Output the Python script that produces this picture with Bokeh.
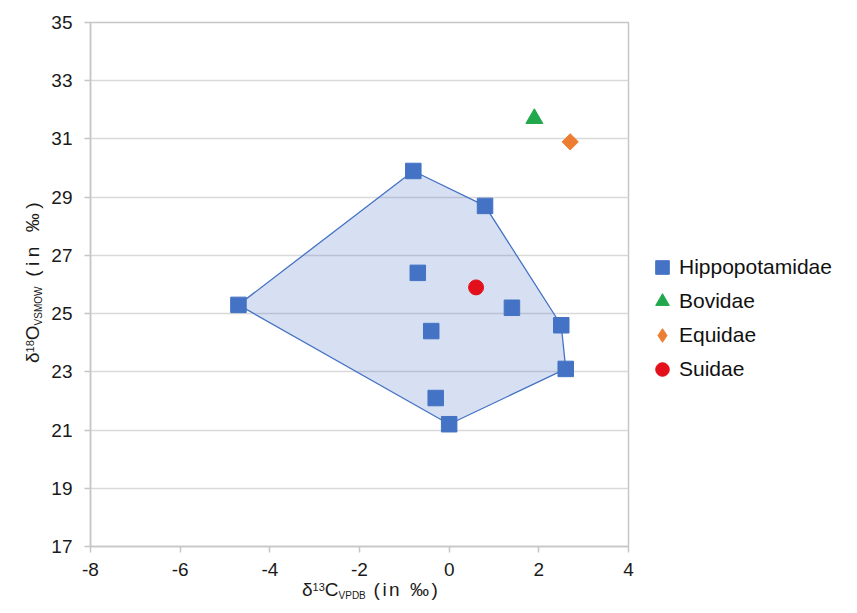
import math
from bokeh.plotting import figure
from bokeh.models import Range1d, FixedTicker, Legend, LegendItem, Div
from bokeh.layouts import column, row
from bokeh.embed import file_html
from bokeh.resources import INLINE

# ---- data ----
hippo_x = [-0.8, 0.8, -0.7, -4.7, 1.4, 2.5, -0.4, 2.6, -0.3, 0.0]
hippo_y = [29.9, 28.7, 26.4, 25.3, 25.2, 24.6, 24.4, 23.1, 22.1, 21.2]
bovid_x = [1.9]
bovid_y = [31.7]
equid_x = [2.7]
equid_y = [30.9]
suid_x = [0.6]
suid_y = [25.9]
x_ticks = [-8, -6, -4, -2, 0, 2, 4]
y_ticks = [17, 19, 21, 23, 25, 27, 29, 31, 33, 35]
legend_labels = ["Hippopotamidae", "Bovidae", "Equidae", "Suidae"]

XMIN, XMAX, YMIN, YMAX = -8, 4, 17, 35
W, H = 857, 613
YDIV_W = 45
XDIV_H = 29
LEG_W = 219
PH = H - XDIV_H
PW = W - YDIV_W - LEG_W
L, R, T, B = 90 - YDIV_W, 10, 22, 38

FONT = "Liberation Sans"
BLUE, GREEN, ORANGE, RED = "#4472C4", "#22A84C", "#ED7D31", "#E3101C"


def convex_hull(xs, ys):
    pts = sorted(set(zip(xs, ys)))

    def cross(o, a, b):
        return (a[0] - o[0]) * (b[1] - o[1]) - (a[1] - o[1]) * (b[0] - o[0])
    lower, upper = [], []
    for pt in pts:
        while len(lower) >= 2 and cross(lower[-2], lower[-1], pt) <= 0:
            lower.pop()
        lower.append(pt)
    for pt in reversed(pts):
        while len(upper) >= 2 and cross(upper[-2], upper[-1], pt) <= 0:
            upper.pop()
        upper.append(pt)
    hull = lower[:-1] + upper[:-1]
    return [q[0] for q in hull], [q[1] for q in hull]


# ---------------- main plot ----------------
p = figure(width=PW, height=PH, output_backend="svg", toolbar_location=None,
           x_range=Range1d(XMIN, XMAX), y_range=Range1d(YMIN, YMAX),
           min_border_left=L, min_border_right=R, min_border_top=T,
           min_border_bottom=B, margin=0)
p.background_fill_color = "white"
p.border_fill_color = "white"
p.outline_line_color = "#c6c6c6"
p.outline_line_width = 1.5

p.xgrid.visible = False
p.ygrid.grid_line_color = "#d9d9d9"
p.ygrid.grid_line_width = 1.5
p.ygrid.ticker = FixedTicker(ticks=y_ticks)

for ax, ticks in ((p.xaxis, x_ticks), (p.yaxis, y_ticks)):
    ax.ticker = FixedTicker(ticks=ticks)
    ax.major_label_overrides = {t: str(t) for t in ticks}
    ax.axis_line_color = "#c6c6c6"
    ax.axis_line_width = 1.5
    ax.major_tick_line_color = "#c6c6c6"
    ax.major_tick_line_width = 1.5
    ax.major_tick_in = 0
    ax.major_tick_out = 6
    ax.minor_tick_line_color = None
    ax.major_label_text_font = FONT
    ax.major_label_text_font_size = "19px"
    ax.major_label_text_color = "#1a1a1a"
p.xaxis.major_label_standoff = 10
p.yaxis.major_label_standoff = 12

hx, hy = convex_hull(hippo_x, hippo_y)
p.patch(hx, hy, fill_color=BLUE, fill_alpha=0.22, line_color=BLUE, line_width=1.3)

p.scatter(hippo_x, hippo_y, marker="square", size=15.5, fill_color=BLUE, line_color=BLUE)
p.scatter(bovid_x, bovid_y, marker="triangle", size=17, fill_color=GREEN, line_color=GREEN)
p.scatter(equid_x, equid_y, marker="square", size=11.5, angle=math.pi / 4,
          fill_color=ORANGE, line_color=ORANGE)
p.scatter(suid_x, suid_y, marker="circle", size=15, fill_color=RED, line_color=RED)

# ---------------- legend panel (separate canvas to the right) ----------------
q = figure(width=LEG_W, height=PH, output_backend="svg", toolbar_location=None,
           x_range=Range1d(100, 101), y_range=Range1d(100, 101),
           x_axis_location=None, y_axis_location=None, min_border=0, margin=0)
q.grid.visible = False
q.outline_line_color = None
q.background_fill_color = "white"
q.border_fill_color = "white"
# series data re-used as legend keys (outside this canvas's range, so unseen)
k_h = q.scatter(hippo_x, hippo_y, marker="square", fill_color=BLUE, line_color=BLUE)
k_b = q.scatter(bovid_x, bovid_y, marker="triangle", fill_color=GREEN, line_color=GREEN)
k_e = q.scatter(equid_x, equid_y, marker="diamond", fill_color=ORANGE, line_color=ORANGE)
k_s = q.scatter(suid_x, suid_y, marker="circle", fill_color=RED, line_color=RED)

legend = Legend(items=[LegendItem(label=lab, renderers=[r])
                       for lab, r in zip(legend_labels, [k_h, k_b, k_e, k_s])],
                location=(7, 160))
legend.margin = 0
legend.padding = 0
legend.spacing = 0
legend.glyph_width = 34
legend.glyph_height = 34
legend.label_height = 34
legend.label_standoff = 0
legend.label_text_font = FONT
legend.label_text_font_size = "21px"
legend.label_text_color = "#111111"
legend.border_line_color = None
legend.background_fill_alpha = 0
q.add_layout(legend, "center")

# ---------------- axis titles (HTML text with sub/superscripts) ----------------
BASE = ("font-family:'Liberation Sans',Arial,sans-serif;font-size:19px;"
        "line-height:19px;color:#1a1a1a;white-space:nowrap;")
SUP = "font-size:11px;line-height:0;vertical-align:5px;"
SUB = "font-size:10px;line-height:0;vertical-align:-3px;"

x_title = ('δ<span style="%s">13</span>C<span style="%s">VPDB</span>'
           '<span style="letter-spacing:2.5px"> (in ‰)</span>' % (SUP, SUB))
y_title = ('δ<span style="%s">18</span>O<span style="%s">VSMOW</span>'
           '<span style="letter-spacing:4.5px"> (in ‰)</span>' % (SUP, SUB))

ydiv = Div(width=YDIV_W, height=PH, margin=0, styles={"overflow": "visible"},
           text=('<div style="position:relative;width:%dpx;height:%dpx;overflow:visible;">'
                 '<div style="position:absolute;left:23px;top:363px;'
                 'transform:rotate(-90deg);transform-origin:left top;%s">%s</div></div>'
                 % (YDIV_W, PH, BASE, y_title)))
xdiv = Div(width=W, height=XDIV_H, margin=0, styles={"overflow": "visible"},
           text=('<div style="position:relative;width:%dpx;height:%dpx;overflow:visible;">'
                 '<div style="position:absolute;left:302px;top:%dpx;%s">%s</div></div>'
                 % (W, XDIV_H, 596 - PH - 16, BASE, x_title)))

layout = column(row(ydiv, p, q, margin=0, spacing=0), xdiv, margin=0, spacing=0)
open("out.html", "w").write(file_html(layout, INLINE))
